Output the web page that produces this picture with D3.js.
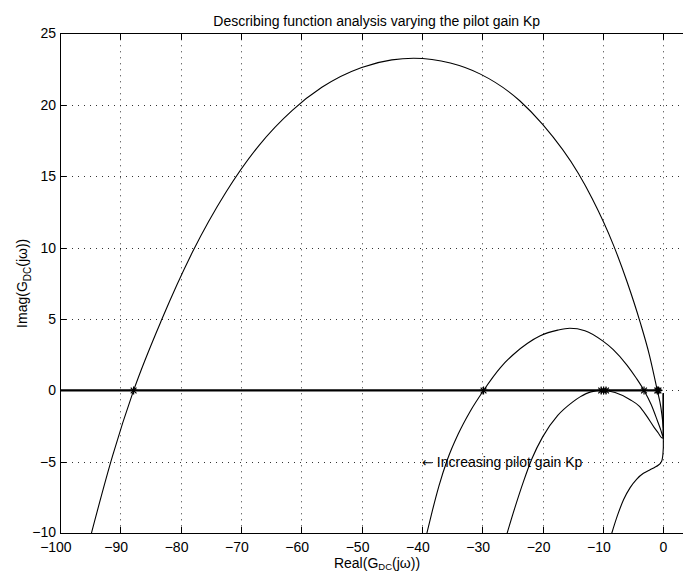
<!DOCTYPE html>
<html>
<head>
<meta charset="utf-8">
<script src="https://cdn.jsdelivr.net/npm/d3@7"></script>
<style>
body { margin: 0; background: #fff; }
svg { display: block; }
text { font-family: "Liberation Sans", Arial, Helvetica, sans-serif; fill: #000; }
</style>
</head>
<body>
<script>
// chart text
var titleText = "Describing function analysis varying the pilot gain Kp";
var noteArrow = "\u2190";
var noteText = " Increasing pilot gain Kp";
var noteAt = [-40, -5];

// tick values
var xTicks = d3.range(-100, 1, 10);
var yTicks = d3.range(-10, 26, 5);

// G_DC(jw) curves, one per pilot gain
var curveA = [[-94.8,-10],[-91.3,-4.6],[-87.8,0],[-83.1,5],[-78,9.72],[-72.5,13.87],[-67,17.16],[-61.5,19.61],
  [-56.6,21.22],[-50,22.61],[-45,23.14],[-41.4,23.25],[-35.3,22.92],[-30.4,22.16],[-23.8,20.28],[-20,18.62],
  [-14.1,15.2],[-11.8,13.44],[-8.3,10.21],[-6,7.59],[-3.86,4.8],[-2.3,2.46],[-1,0],
  [-0.4,-1.2],[-0.1,-2.2],[0,-2.6],[0,-0.2]];
var curveB = [[-39.2,-10],[-38.3,-8.45],[-37.2,-6.7],[-35.8,-4.85],[-34,-3.05],[-32,-1.45],[-29.8,0],[-27,1.6],
  [-24.9,2.5],[-22.5,3.3],[-20.4,3.82],[-17.5,4.22],[-15.5,4.35],[-13,4.18],[-10,3.45],[-8.3,2.86],
  [-6,1.76],[-4.5,0.87],[-3.2,0],[-2,-1],[-1,-2.1],[-0.4,-2.8],[-0.1,-3.2],[0,-3.3],[0,-0.2]];
var curveC = [[-25.9,-10],[-24.6,-8.2],[-23.2,-6.4],[-21.8,-4.8],[-20,-3.25],[-17.5,-1.75],[-15,-0.8],[-13.8,-0.45],
  [-12,-0.1],[-10,0],[-8,-0.15],[-5.5,-0.65],[-4,-1.1],[-2.75,-1.8],[-1.5,-2.6],[-0.8,-3],[-0.3,-3.3],[0,-3.35],[0,-0.2]];
var curveD = [[-8.55,-10],[-7.6,-8.75],[-6.6,-7.65],[-5.5,-6.8],[-4.4,-6.2],[-3.3,-5.8],[-2.2,-5.55],
  [-1.4,-5.38],[-0.8,-5.22],[-0.4,-5.05],[-0.2,-4.85],[-0.08,-4.5],[0,-4],[0,-0.2]];

// -1/N line and its crossings
var critLine = [[-100,0],[-0.3,0]];
var crossings = [-87.8, -29.8, -10.3, -9.9, -9.5, -3.2, -1.0, -0.8];

var width = 683,
    height = 571;

var svg = d3.select("body").append("svg")
    .attr("width", width)
    .attr("height", height);

var x = d3.scaleLinear().domain([-100, 5]).range([60, 693.5]);
var y = d3.scaleLinear().domain([-10, 25]).range([533.3, 33.3]);

var pLeft = x(-100), pRight = x(5), pTop = y(25), pBottom = y(-10);
function px(v) { return Math.round(v) + 0.5; }

svg.append("clipPath").attr("id", "clip")
  .append("rect").attr("x", pLeft).attr("y", pTop).attr("width", pRight - pLeft).attr("height", pBottom - pTop);

// grid
var grid = svg.append("g")
    .attr("stroke", "#333")
    .attr("stroke-width", 1)
    .attr("stroke-dasharray", "1,5");
grid.selectAll(".gx").data(xTicks).enter().append("line")
    .attr("x1", function(d) { return px(x(d)); })
    .attr("x2", function(d) { return px(x(d)); })
    .attr("y1", pTop).attr("y2", pBottom);
grid.selectAll(".gy").data(yTicks).enter().append("line")
    .attr("y1", function(d) { return px(y(d)); })
    .attr("y2", function(d) { return px(y(d)); })
    .attr("x1", pLeft).attr("x2", pRight);

// axes box and inward ticks
var ax = svg.append("g").attr("stroke", "#000").attr("stroke-width", 1).attr("fill", "none");
ax.append("rect").attr("x", px(pLeft)).attr("y", px(pTop))
    .attr("width", Math.round(pRight - pLeft)).attr("height", Math.round(pBottom - pTop));
xTicks.forEach(function(d) {
  ax.append("line").attr("x1", px(x(d))).attr("x2", px(x(d))).attr("y1", pBottom).attr("y2", pBottom - 6.5);
  ax.append("line").attr("x1", px(x(d))).attr("x2", px(x(d))).attr("y1", pTop).attr("y2", pTop + 6.5);
});
yTicks.forEach(function(d) {
  ax.append("line").attr("y1", px(y(d))).attr("y2", px(y(d))).attr("x1", pLeft).attr("x2", pLeft + 6.5);
});

// tick labels: digits centred on the tick, minus sign hanging left
var fs = 14;
xTicks.forEach(function(d) {
  var s = String(Math.abs(d));
  var w = s.length * 0.556 * fs;
  svg.append("text")
      .attr("x", x(d) + w / 2)
      .attr("y", 552)
      .attr("text-anchor", "end")
      .attr("font-size", fs)
      .text((d < 0 ? "\u2212" : "") + s);
});
yTicks.forEach(function(d) {
  svg.append("text")
      .attr("x", 56)
      .attr("y", y(d) + (d === -10 ? 3.5 : 5))
      .attr("text-anchor", "end")
      .attr("font-size", fs)
      .text((d < 0 ? "\u2212" : "") + Math.abs(d));
});

// curves: smooth through the read points, straight tail up the imaginary axis
var spline = d3.line()
    .x(function(d) { return x(d[0]); })
    .y(function(d) { return y(d[1]); })
    .curve(d3.curveMonotoneX);

function curvePath(pts) {
  var last = pts[pts.length - 1];
  return spline(pts.slice(0, -1)) + "L" + x(last[0]) + "," + y(last[1]);
}

var plot = svg.append("g").attr("clip-path", "url(#clip)");
plot.selectAll(".curve")
    .data([curveA, curveB, curveC, curveD])
    .enter().append("path")
    .attr("fill", "none")
    .attr("stroke", "#000")
    .attr("stroke-width", 1.1)
    .attr("d", curvePath);

plot.append("path")
    .attr("fill", "none")
    .attr("stroke", "#000")
    .attr("stroke-width", 2.2)
    .attr("d", d3.line().x(function(d) { return x(d[0]); }).y(function(d) { return y(d[1]); })(critLine));

// asterisk markers
var r = 4;
plot.selectAll(".star")
    .data(crossings)
    .enter().append("path")
    .attr("fill", "none")
    .attr("stroke", "#000")
    .attr("stroke-width", 1.2)
    .attr("transform", function(d) { return "translate(" + x(d) + "," + y(0) + ")"; })
    .attr("d", "M" + (-r) + ",0H" + r + "M0," + (-r) + "V" + r +
               "M" + (-r * 0.72) + "," + (-r * 0.72) + "L" + (r * 0.72) + "," + (r * 0.72) +
               "M" + (-r * 0.72) + "," + (r * 0.72) + "L" + (r * 0.72) + "," + (-r * 0.72));

// annotation
var note = svg.append("text")
    .attr("x", x(noteAt[0]))
    .attr("y", y(noteAt[1]) + 5)
    .attr("font-size", fs);
note.append("tspan").attr("font-family", "DejaVu Sans").attr("font-size", 13).text(noteArrow);
note.append("tspan").text(noteText);

// title and axis labels
svg.append("text")
    .attr("x", (pLeft + pRight) / 2)
    .attr("y", 26)
    .attr("text-anchor", "middle")
    .attr("font-size", fs)
    .text(titleText);

var xl = svg.append("text")
    .attr("x", 377)
    .attr("y", 567.5)
    .attr("text-anchor", "middle")
    .attr("font-size", fs);
xl.append("tspan").text("Real(G");
xl.append("tspan").attr("font-size", 9.5).attr("dy", 2).text("DC");
xl.append("tspan").attr("dy", -2).text("(j\u03c9))");

var yl = svg.append("text")
    .attr("transform", "translate(26.5," + ((pTop + pBottom) / 2) + ") rotate(-90)")
    .attr("text-anchor", "middle")
    .attr("font-size", fs);
yl.append("tspan").text("Imag(G");
yl.append("tspan").attr("font-size", 10).attr("dy", 4).text("DC");
yl.append("tspan").attr("dy", -4).text("(j\u03c9))");
</script>
</body>
</html>
